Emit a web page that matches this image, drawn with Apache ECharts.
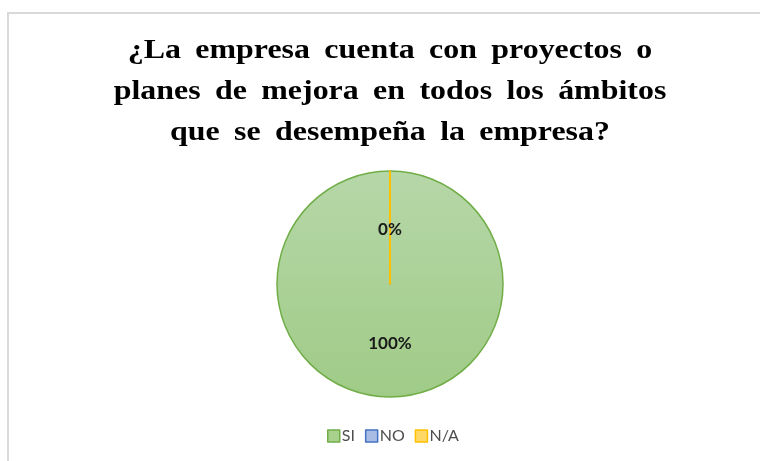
<!DOCTYPE html>
<html>
<head>
<meta charset="utf-8">
<script src="https://cdn.jsdelivr.net/npm/echarts@6/dist/echarts.min.js"></script>
<style>
  html, body { margin: 0; padding: 0; background: #fff; }
  #chart { width: 760px; height: 461px; }
  #frame {
    position: absolute; left: 7px; top: 12px; width: 800px; height: 500px;
    border-top: 2px solid #d9d9d9; border-left: 2px solid #d9d9d9;
    pointer-events: none;
  }
</style>
</head>
<body>
<div id="chart"></div>
<div id="frame"></div>
<script>
// datos de la encuesta
const categorias = ['SI', 'NO', 'N/A'];
const valores = [100, 0, 0];
const rellenos = ['#a9d18e', '#a9bce4', '#ffd966'];
const bordes = ['#70ad47', '#4472c4', '#ffc000'];
const titulo = '¿La empresa cuenta con proyectos o\nplanes de mejora en todos los ámbitos\nque se desempeña la empresa?';

let chartDom = document.getElementById('chart');
let myChart = echarts.init(chartDom);
let option;

let datos = [];
for (let i = 0; i < categorias.length; i++) {
  datos.push({
    name: categorias[i],
    value: valores[i],
    itemStyle: {
      color: i === 0 ? new echarts.graphic.LinearGradient(0, 0, 0, 1, [
        { offset: 0, color: '#b6d7a8' },
        { offset: 1, color: '#a0cb87' }
      ]) : rellenos[i],
      borderColor: bordes[i],
      borderWidth: i === 0 ? 1.5 : 2
    },
    // las etiquetas de 0% quedan un poco mas abajo
    label: valores[i] === 0 ? { offset: [0, 5] } : {}
  });
}

option = {
  animation: false,
  // titulo con espacios algo mas anchos entre palabras, como en el original
  graphic: [{
    type: 'text',
    x: 390,
    y: 30,
    scaleX: 1.14,
    style: {
      text: titulo.replace(/ /g, ' \u2009'),
      textAlign: 'center',
      textVerticalAlign: 'top',
      fontFamily: 'Liberation Serif',
      fontWeight: 'bold',
      fontSize: 28,
      lineHeight: 41,
      fill: '#000'
    }
  }],
  legend: {
    bottom: 12,
    left: 322,
    itemWidth: 12,
    itemHeight: 12,
    itemGap: 10,
    icon: 'rect',
    data: categorias.map((c, i) => ({
      name: c,
      itemStyle: { color: rellenos[i], borderColor: bordes[i], borderWidth: 1.5 }
    })),
    textStyle: { fontFamily: 'Lato', fontSize: 16, color: '#4d4d4d', padding: [0, 0, 0, -3] }
  },
  series: [{
    type: 'pie',
    center: [390, 284],
    radius: 113,
    startAngle: 90,
    clockwise: true,
    stillShowZeroSum: true,
    label: {
      show: true,
      position: 'inside',
      formatter: p => Math.round(p.percent) + '%',
      fontFamily: 'Lato',
      fontWeight: 'bold',
      fontSize: 17,
      color: '#1a1a1a'
    },
    labelLine: { show: false },
    emphasis: { disabled: true },
    data: datos
  }]
};

option && myChart.setOption(option);
</script>
</body>
</html>
